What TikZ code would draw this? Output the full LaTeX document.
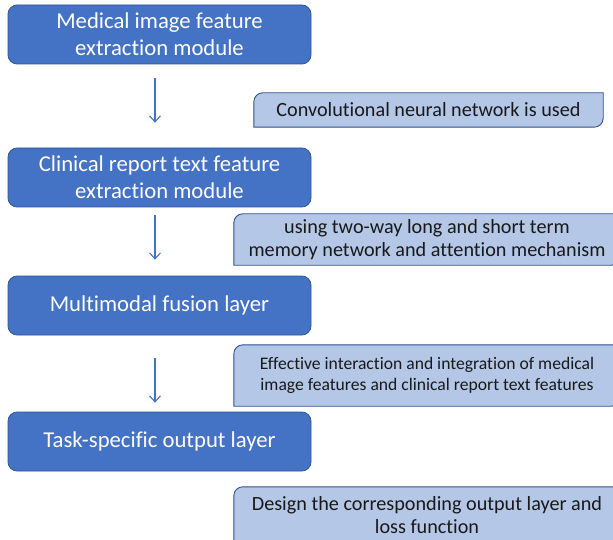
\documentclass[tikz,border=0pt]{standalone}
\usepackage{fontspec}
\setmainfont{Carlito}[Ligatures={NoCommon}]
\usetikzlibrary{backgrounds,arrows.meta}
\definecolor{boxblue}{HTML}{4472C4}
\definecolor{boxedge}{HTML}{2F528F}
\definecolor{noteblue}{HTML}{B4C7E7}
\begin{document}
\begin{tikzpicture}[x=1pt,y=-1pt,
  modbox/.style={rectangle, rounded corners=9pt, fill=boxblue, draw=boxedge, line width=0.7pt, text=white, minimum width=303pt, minimum height=59pt, align=center, font=\fontsize{22.7}{27}\selectfont},
  notebox/.style={rectangle, inner sep=0pt, align=center, text=black!90},
  noteline/.style={fill=noteblue, draw=boxedge, line width=0.9pt},
  flow/.style={draw=boxblue, line width=1.1pt, -{Straight Barb[length=6pt,width=11pt]}}]
\path[use as bounding box] (0,0) rectangle (613,540);
\node [modbox] (med) at (159.5,34.5) {Medical image feature\\extraction module};
\node [modbox] (txt) at (159.5,177.5) {Clinical report text feature\\extraction module};
\node [modbox] (fuse) at (159.5,305.5) {Multimodal fusion layer};
\node [modbox] (out) at (159.5,441.5) {Task-specific output layer};
\node [notebox, minimum width=349pt, minimum height=34pt, font=\fontsize{20.2}{23}\selectfont] (cnn) at (428.5,110) {Convolutional neural network is used};
\node [notebox, minimum width=386pt, minimum height=51pt, font=\fontsize{20.2}{23}\selectfont] (lstm) at (427,239.5) {using two-way long and short term\\memory network and attention mechanism};
\node [notebox, minimum width=386pt, minimum height=61pt, font=\fontsize{17.6}{21}\selectfont] (mix) at (427,375.5) {Effective interaction and integration of medical\\image features and clinical report text features};
\node [notebox, minimum width=386pt, minimum height=56pt, font=\fontsize{20.2}{23}\selectfont] (loss) at (427,515) {Design the corresponding output layer and\\loss function};
\begin{scope}[on background layer]
\foreach \n in {cnn,lstm,mix,loss}
  \draw[noteline] (\n.south west) -- ([yshift=-9pt]\n.north west) to[out=90,in=180] ([xshift=9pt]\n.north west) -- (\n.north east) -- ([yshift=9pt]\n.south east) to[out=-90,in=0] ([xshift=-9pt]\n.south east) -- cycle;
\end{scope}
\draw[flow, shorten <=14pt, shorten >=25pt] ([xshift=-4.5pt]med.south) -- ([xshift=-4.5pt]txt.north);
\draw[flow, shorten <=8pt, shorten >=16pt] ([xshift=-4.5pt]txt.south) -- ([xshift=-4.5pt]fuse.north);
\draw[flow, shorten <=23pt, shorten >=9pt] ([xshift=-4.5pt]fuse.south) -- ([xshift=-4.5pt]out.north);
\end{tikzpicture}
\end{document}
